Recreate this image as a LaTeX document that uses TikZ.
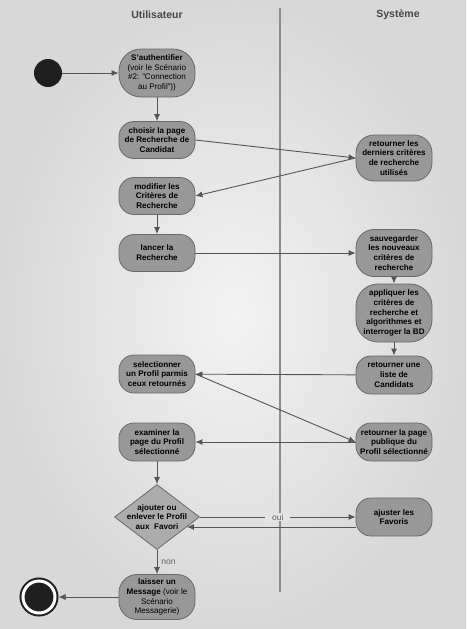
\documentclass[tikz,border=0pt]{standalone}
\usepackage{fontspec}
\setmainfont{Liberation Sans}
\usepackage{tikz}
\usetikzlibrary{positioning,shapes,arrows.meta,calc}
\definecolor{actfill}{RGB}{152,152,152}
\definecolor{choicefill}{RGB}{172,172,172}
\definecolor{actdraw}{RGB}{105,105,105}
\definecolor{flow}{RGB}{85,85,85}
\definecolor{lane}{RGB}{140,140,140}
\definecolor{bgin}{RGB}{243,243,243}
\definecolor{bgout}{RGB}{216,216,216}
\definecolor{bgmid}{RGB}{228,228,228}
\tikzstyle{act}=[%
      rectangle, rounded corners=15pt, draw=actdraw, thick, fill=actfill,
      font=\fontsize{8.1}{9.8}\selectfont\bfseries, align=center,
      minimum width=76pt, minimum height=38pt, inner sep=0pt
]
\tikzstyle{choice}=[%
      diamond, aspect=1.3, draw=actdraw, thick, fill=choicefill,
      font=\fontsize{8.1}{9.8}\selectfont\bfseries, align=center,
      minimum width=85pt, minimum height=65pt, inner sep=-8pt
]
\tikzstyle{startst}=[%
      circle, fill=black!88, draw=none, minimum size=28pt, inner sep=0pt
]
\tikzstyle{endst}=[%
      circle, fill=black!88, draw=black!88, double=white, double distance=3pt,
      line width=2pt, minimum size=32pt, inner sep=0pt, outer sep=3.5pt
]
\tikzstyle{lanetitle}=[%
      font=\fontsize{10.5}{12}\selectfont\bfseries, text=black!72
]
\tikzstyle{lbl}=[%
      font=\fontsize{8.5}{10}\selectfont, text=black!62, fill=bgmid,
      inner xsep=7pt, inner ysep=1pt
]

\begin{document}
\begin{tikzpicture}[auto, x=1pt, y=-1pt,
    every edge/.style={draw=flow, line width=0.9pt},
    -{Latex[length=7pt,width=6pt]}
  ]
    % fond et couloirs
    \shade[-, inner color=bgin, outer color=bgout] (0,0) rectangle (466,629);
    \useasboundingbox (0,0) rectangle (466,629);
    \draw[-, draw=lane, line width=1.2pt] (280,8) -- (280,592);
    \node[lanetitle] (utilisateur) at (157,15) {Utilisateur};
    \node[lanetitle] (systeme)     at (398,15) {Système};

    % couloir Utilisateur
    \node[startst] (debut) at (48,73) {};
    \node[act, minimum height=48pt, rounded corners=22pt] (auth) at (157,73)
        {S'authentifier\\\mdseries (voir le Scénario\\\mdseries\#2: "Connection\\\mdseries au Profil"))};
    \node[act, minimum height=37pt] (choisir)   at (157,140) {choisir la page\\de Recherche de\\Candidat};
    \node[act, minimum height=37pt] (modifier)  at (157,196) {modifier les\\Critères de\\Recherche};
    \node[act, minimum height=37pt] (lancer)    at (157,253) {lancer la\\Recherche};
    \node[act] (selection) at (157,374) {selectionner\\un Profil parmis\\ceux retournés};
    \node[act] (examiner)  at (157,442) {examiner la\\page du Profil\\sélectionné};
    \node[choice] (choix)  at (157,517) {ajouter ou\\enlever le Profil\\aux~ Favori};
    \node[act, minimum height=45pt, rounded corners=18pt] (laisser) at (157,597)
        {laisser un\\Message {\mdseries (voir le}\\\mdseries Scénario\\\mdseries Messagerie)};
    \node[endst] (fin) at (39,597) {};

    % couloir Système
    \node[act, minimum height=46pt, rounded corners=18pt] (derniers) at (394,158)
        {retourner les\\derniers critères\\de recherche\\utilisés};
    \node[act, minimum height=47pt, rounded corners=18pt] (sauvegarder) at (394,253)
        {sauvegarder\\les nouveaux\\critères de\\recherche};
    \node[act, minimum height=58pt, rounded corners=22pt] (appliquer) at (394,313)
        {appliquer les\\critères de\\recherche et\\algorithmes et\\interroger la BD};
    \node[act] (liste)    at (394,375) {retourner une\\liste de\\Candidats};
    \node[act] (publique) at (394,442) {retourner la page\\publique du\\Profil sélectionné};
    \node[act] (ajuster)  at (394,517) {ajuster les\\Favoris};

    \path (debut) edge (auth)
          (auth) edge (choisir)
          (choisir.east) edge (derniers.west)
          (derniers.west) edge (modifier.east)
          (modifier) edge (lancer)
          (lancer) edge (sauvegarder)
          (sauvegarder) edge (appliquer)
          (appliquer) edge (liste)
          (liste) edge (selection)
          (selection.east) edge (publique.west)
          (publique) edge (examiner)
          (examiner) edge (choix)
          (choix) edge node[lbl, auto=false] {oui} (ajuster)
          ([yshift=-10pt]ajuster.west) edge ([shift={(-13pt,-10pt)}]choix.east)
          (choix) edge node[lbl, fill=none, inner xsep=4pt] {non} (laisser)
          (laisser) edge (fin)
    ;

  \end{tikzpicture}
\end{document}
